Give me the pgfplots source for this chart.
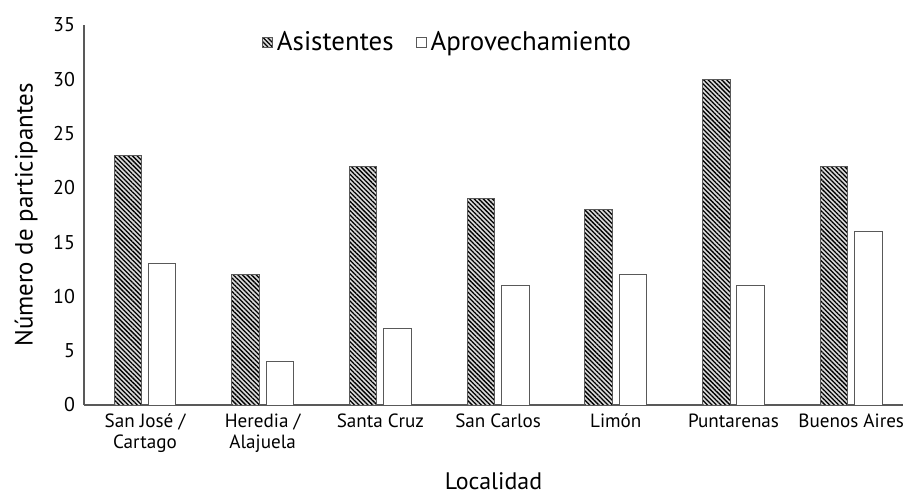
\documentclass[border=0pt]{standalone}
\usepackage{pgfplots}
\pgfplotsset{compat=1.18}
\usepackage{fontspec}
\setmainfont{PT Sans}
\usetikzlibrary{patterns.meta}
\definecolor{edge}{gray}{0.35}

\begin{document}
\begin{tikzpicture}
\begin{axis}[
    scale only axis,
    width=409.5bp, height=190bp,
    ybar=3.45bp, bar width=13.75bp,
    xmin=-0.518, xmax=6.44,
    ymin=0, ymax=35,
    ytick={0,5,...,35},
    xtick=data,
    xticklabels={San José /\\Cartago, Heredia /\\Alajuela, Santa Cruz, San Carlos, Limón, Puntarenas, Buenos Aires},
    xticklabel style={align=center, font=\fontsize{9.6}{10.5}\selectfont, yshift=-1bp},
    yticklabel style={font=\fontsize{10}{12}\selectfont, xshift=-1bp},
    /pgf/number format/assume math mode=true,
    major tick length=0pt,
    axis x line*=bottom, axis y line*=left,
    axis line style={edge, line width=0.6bp},
    xlabel={Localidad}, ylabel={Número de participantes},
    xlabel style={font=\fontsize{12}{14}\selectfont, yshift=-3bp},
    ylabel style={font=\fontsize{12.5}{14}\selectfont, yshift=1bp},
    legend style={at={(0.445,0.955)}, anchor=center, draw=none,
        font=\fontsize{13.5}{15}\selectfont, legend columns=-1,
        /tikz/every even column/.append style={column sep=9bp}},
    legend image code/.code={\draw[#1] (0cm,-2.5bp) rectangle (5bp,2.5bp);},
]
\addplot[draw=edge, line width=0.5bp, fill=gray!30,
    postaction={pattern={Lines[angle=-45,distance=1.6bp,line width=0.65bp]}}]
    coordinates {(0,23) (1,12) (2,22) (3,19) (4,18) (5,30) (6,22)};
\addplot[draw=edge, line width=0.5bp, fill=white]
    coordinates {(0,13) (1,4) (2,7) (3,11) (4,12) (5,11) (6,16)};
\legend{Asistentes, Aprovechamiento}
\end{axis}
\pgfresetboundingbox
\useasboundingbox (-42bp,-44.5bp) rectangle (409.5bp,202.5bp);
\end{tikzpicture}
\end{document}
